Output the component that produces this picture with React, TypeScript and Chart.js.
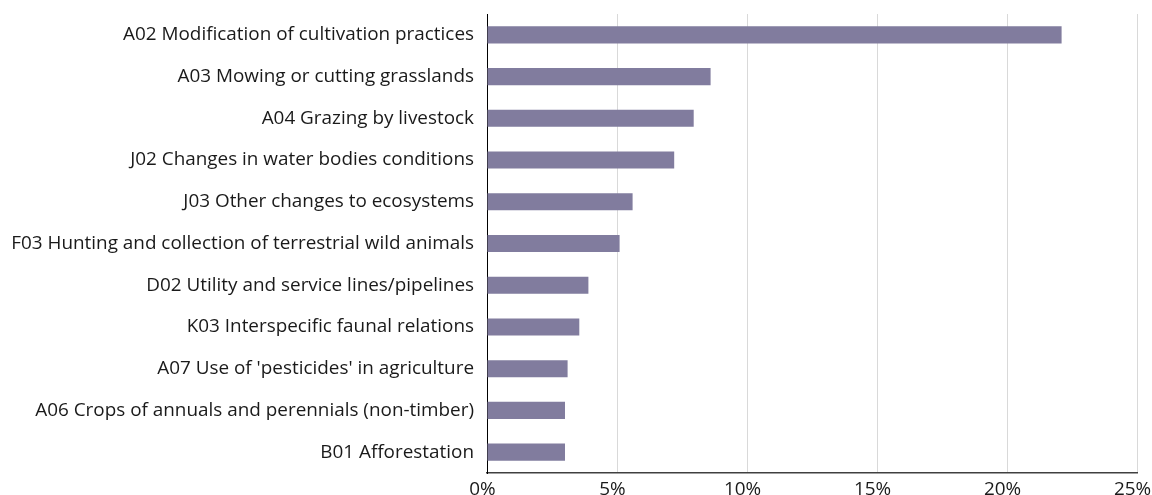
import React, { useEffect, useRef } from "react";
import { Chart, registerables } from "chart.js";

Chart.register(...registerables);

const categories = [
  "A02 Modification of cultivation practices",
  "A03 Mowing or cutting grasslands",
  "A04 Grazing by livestock",
  "J02 Changes in water bodies conditions",
  "J03 Other changes to ecosystems",
  "F03 Hunting and collection of terrestrial wild animals",
  "D02 Utility and service lines/pipelines",
  "K03 Interspecific faunal relations",
  "A07 Use of 'pesticides' in agriculture",
  "A06 Crops of annuals and perennials (non-timber)",
  "B01 Afforestation",
];

const shares = [22.1, 8.6, 7.95, 7.2, 5.6, 5.1, 3.9, 3.55, 3.1, 3.0, 3.0];

const xTicks = [0, 5, 10, 15, 20, 25];

export default function App() {
  const ref = useRef<HTMLCanvasElement | null>(null);

  useEffect(() => {
    document.body.style.margin = "0";
    const ctx = ref.current!;
    const chart = new Chart(ctx, {
      type: "bar",
      data: {
        labels: categories,
        datasets: [
          {
            data: shares,
            backgroundColor: "#817c9e",
            borderWidth: 0,
            categoryPercentage: 0.82,
            barPercentage: 0.5,
          },
        ],
      },
      options: {
        indexAxis: "y",
        animation: false,
        responsive: false,
        maintainAspectRatio: false,
        layout: { padding: { top: 14, right: 15, left: 0, bottom: 0 } },
        plugins: { legend: { display: false }, tooltip: { enabled: false } },
        scales: {
          x: {
            min: 0,
            max: 25,
            afterBuildTicks: (s: any) => {
              s.ticks = xTicks.map((v) => ({ value: v }));
            },
            ticks: {
              callback: (v: any) => v + "%",
              font: { family: "'Open Sans'", size: 18.9 },
              color: "#1a1a1a",
              padding: 5,
              labelOffset: -4.5,
              maxRotation: 0,
            },
            grid: { color: "#d9d9d9", lineWidth: 1, drawTicks: false },
            border: { color: "#404040", width: 1.5 },
            afterFit: (s: any) => {
              s.height = 22;
              s.paddingLeft = 0;
              s.paddingRight = 0;
              s.paddingTop = 0;
              s.paddingBottom = 0;
            },
          },
          y: {
            ticks: {
              font: { family: "'Open Sans'", size: 18.9 },
              color: "#1a1a1a",
              padding: 13,
              autoSkip: false,
            },
            grid: { display: false, drawTicks: false },
            border: { color: "#000000", width: 1 },
            afterFit: (s: any) => {
              s.width = 487;
              s.paddingLeft = 0;
              s.paddingRight = 0;
              s.paddingTop = 0;
              s.paddingBottom = 0;
            },
          },
        },
      },
    });
    return () => chart.destroy();
  }, []);

  return (
    <div style={{ position: "fixed", left: 0, top: 0, width: 1152, height: 495, background: "#fff" }}>
      <canvas ref={ref} width={1152} height={495} />
    </div>
  );
}
